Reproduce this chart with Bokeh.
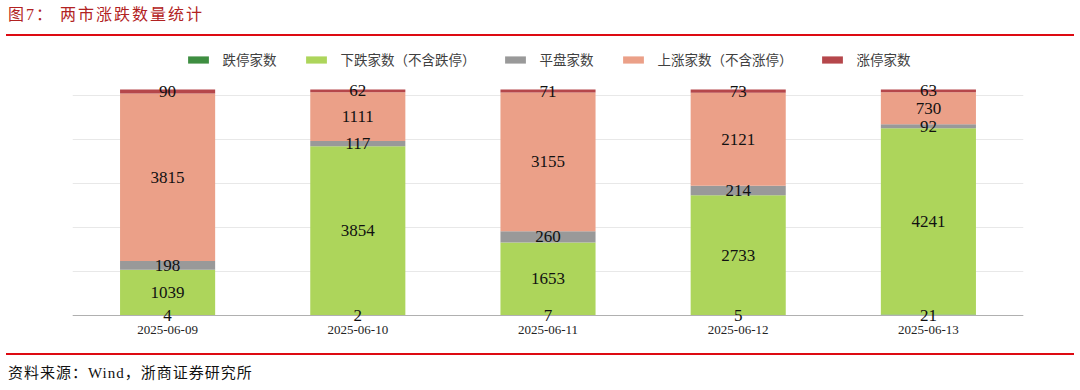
from bokeh.plotting import figure
from bokeh.layouts import column
from bokeh.models import (Div, Range1d, LabelSet, ColumnDataSource, Legend, LegendItem,
                          SingleIntervalTicker)
from bokeh.core.properties import value
from bokeh.embed import file_html
from bokeh.resources import INLINE

dates = ["2025-06-09", "2025-06-10", "2025-06-11", "2025-06-12", "2025-06-13"]
limit_down = [4, 2, 7, 5, 21]
down = [1039, 3854, 1653, 2733, 4241]
flat = [198, 117, 260, 214, 92]
up = [3815, 1111, 3155, 2121, 730]
limit_up = [90, 62, 71, 73, 63]

series_names = ["跌停家数", "下跌家数（不含跌停）", "平盘家数", "上涨家数（不含涨停）", "涨停家数"]
keys = ["limit_down", "down", "flat", "up", "limit_up"]
colors = ["#3E8E41", "#ADD55B", "#999999", "#EBA088", "#B5474B"]

data = dict(date=dates, limit_down=limit_down, down=down, flat=flat, up=up, limit_up=limit_up)
src = ColumnDataSource(data)

SERIF = "'Liberation Serif', 'Noto Sans CJK SC'"

p = figure(x_range=dates, y_range=Range1d(-865, 6170), width=1080, height=317,
           output_backend="svg", toolbar_location=None,
           min_border_left=72, min_border_right=57, min_border_top=8, min_border_bottom=0)

rs = p.vbar_stack(keys, x="date", width=0.5, color=colors, source=src, line_color=None)

# labels at segment centres
lx, ly, lt = [], [], []
series_vals = [limit_down, down, flat, up, limit_up]
for i, d in enumerate(dates):
    base = 0
    for vals in series_vals:
        v = vals[i]
        lx.append(d)
        ly.append(base + v / 2)
        lt.append(str(v))
        base += v
lsrc = ColumnDataSource(dict(x=lx, y=ly, t=lt))

p.yaxis.visible = False
p.yaxis.ticker = SingleIntervalTicker(interval=1000)
p.xgrid.visible = False
p.ygrid.grid_line_color = "#E8E8E8"
p.ygrid.grid_line_width = 1
p.ygrid.bounds = (0, 5000)
p.outline_line_color = None
p.xaxis.fixed_location = 0
p.xaxis.axis_line_color = "#B0B0B0"
p.xaxis.major_tick_line_color = None
p.xaxis.minor_tick_line_color = None
p.xaxis.major_label_text_font = SERIF
p.xaxis.major_label_text_font_size = "13px"
p.xaxis.major_label_text_color = "#222222"
p.xaxis.major_label_standoff = 4
p.x_range.range_padding = 0

labels = LabelSet(x="x", y="y", text="t", source=lsrc, text_align="center", text_baseline="middle",
                  text_font=value(SERIF), text_font_size="17px", text_color="#111111")
p.add_layout(labels)

legend = Legend(items=[LegendItem(label=n, renderers=[r]) for n, r in zip(series_names, rs)],
                orientation="horizontal", location="top_center",
                border_line_color=None, background_fill_alpha=0,
                glyph_width=26, glyph_height=9, label_standoff=12, spacing=26,
                padding=5, margin=5,
                label_text_font="Noto Sans CJK SC", label_text_font_size="13.5px",
                label_text_color="#404040")
p.add_layout(legend, "center")

title = Div(text="图7：&nbsp;两市涨跌数量统计", width=1068, height=36, margin=(0, 0, 0, 6),
            styles={"border-bottom": "2px solid #DD0A12", "color": "#B22222",
                    "font-family": SERIF, "font-size": "16px", "letter-spacing": "2px",
                    "box-sizing": "border-box", "line-height": "18px",
                    "padding-top": "6px", "padding-left": "2px"})
footer = Div(text="资料来源：Wind，浙商证券研究所", width=1068, height=37, margin=(0, 0, 0, 6),
             styles={"border-top": "2px solid #DD0A12", "color": "#111111",
                     "font-family": SERIF, "font-size": "15px", "letter-spacing": "1px",
                     "box-sizing": "border-box", "padding-top": "9px", "padding-left": "2px",
                     "line-height": "18px"})

layout = column(title, p, footer, spacing=0)
open("out.html", "w").write(file_html(layout, INLINE))
